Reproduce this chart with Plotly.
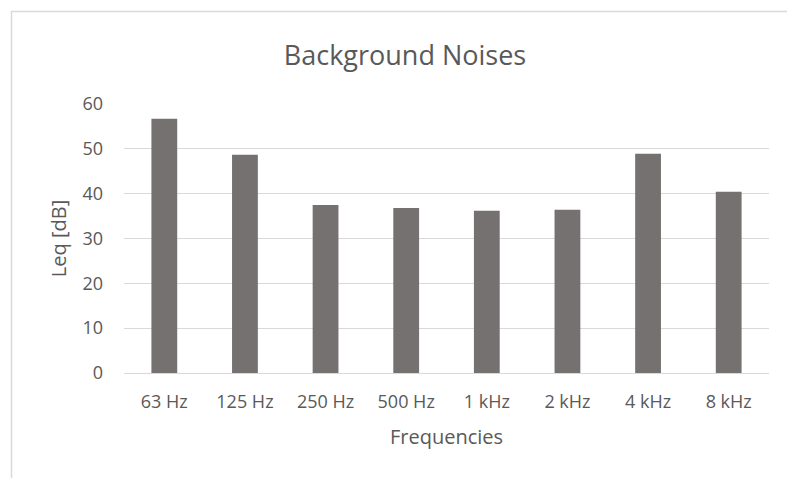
import plotly.graph_objects as go

categories = ["63 Hz", "125 Hz", "250 Hz", "500 Hz", "1 kHz", "2 kHz", "4 kHz", "8 kHz"]
leq_values = [56.7, 48.7, 37.5, 36.8, 36.2, 36.4, 48.9, 40.4]
y_ticks = [0, 10, 20, 30, 40, 50, 60]

FONT = "Open Sans"
TEXT = "#595959"
GRID = "#d9d9d9"

fig = go.Figure(go.Bar(
    x=categories, y=leq_values,
    marker=dict(color="#767171", line=dict(width=0)),
))

W, H = 787, 478
L, R, T, B = 124, 18, 104, 105
pw, ph = W - L - R, H - T - B

fig.update_layout(
    width=W, height=H,
    margin=dict(l=L, r=R, t=T, b=B, pad=0),
    paper_bgcolor="white", plot_bgcolor="white",
    bargap=0.68,
    showlegend=False,
    font=dict(family=FONT, color=TEXT, size=18),
    title=dict(text="Background Noises", xref="container", x=405 / W, xanchor="center",
               yref="container", y=1 - 56 / H, yanchor="middle",
               font=dict(family=FONT, size=27, color=TEXT)),
    xaxis=dict(
        showgrid=False, showline=True, linecolor=GRID, linewidth=1,
        ticks="", tickfont=dict(size=18, color=TEXT), ticklabelstandoff=12,
        title=dict(text="Frequencies", font=dict(size=20, color=TEXT), standoff=18),
    ),
    yaxis=dict(
        range=[0, 60], tickvals=y_ticks, showgrid=True, gridcolor=GRID, gridwidth=1,
        zeroline=False, showline=False, ticks="", ticklabelstandoff=20,
        tickfont=dict(size=18, color=TEXT),
        title=dict(text="Leq [dB]", font=dict(size=20, color=TEXT), standoff=10),
    ),
    shapes=[dict(
        type="rect", xref="paper", yref="paper",
        x0=(11.5 - L) / pw, x1=(W + 5 - L) / pw,
        y0=(H - B - (H + 5)) / ph, y1=(H - B - 11.5) / ph,
        line=dict(color=GRID, width=1.5), fillcolor="rgba(0,0,0,0)", layer="below",
    )],
)

fig.write_html("out.html")
